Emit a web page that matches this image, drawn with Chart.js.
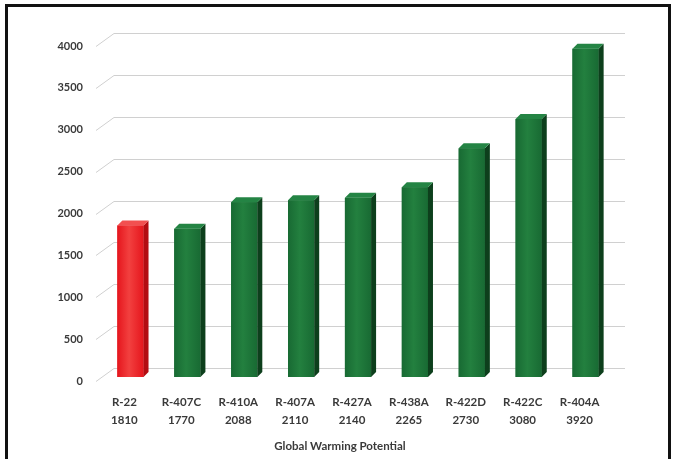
<!DOCTYPE html>
<html>
<head>
<meta charset="utf-8">
<script src="https://cdn.jsdelivr.net/npm/chart.js@4.4.1/dist/chart.umd.min.js"></script>
<style>
    html, body { margin: 0; padding: 0; background: #fff; }
    #wrap { position: relative; width: 674px; height: 459px; overflow: hidden; }
    #frame {
        position: absolute; left: 5px; top: 4px; width: 660px; height: 470px;
        border: 3px solid #111; pointer-events: none;
    }
</style>
</head>
<body>
<div id="wrap">
    <canvas id="gwpChart" width="674" height="459"></canvas>
    <div id="frame"></div>
</div>
<script>
// Refrigerants and their global warming potential
const refrigerants = ['R-22', 'R-407C', 'R-410A', 'R-407A', 'R-427A', 'R-438A', 'R-422D', 'R-422C', 'R-404A'];
const gwpValues = [1810, 1770, 2088, 2110, 2140, 2265, 2730, 3080, 3920];
const yTicks = [0, 500, 1000, 1500, 2000, 2500, 3000, 3500, 4000];
const axisTitle = 'Global Warming Potential';

const RED = { front: '#e5161d', light: '#f2403f', side: '#b30d12', top: '#f25050' };
const GREEN = { front: '#186a33', light: '#23803f', side: '#0d3f1c', top: '#248444' };

const palette = refrigerants.map((r, i) => i === 0 ? RED : GREEN);

// Back wall grid with the little diagonal "floor" connectors
const wallGrid = {
    id: 'wallGrid',
    beforeDatasetsDraw(chart) {
        const ctx = chart.ctx;
        const y = chart.scales.y;
        ctx.save();
        ctx.strokeStyle = '#d0d0d0';
        ctx.lineWidth = 1;
        yTicks.forEach(v => {
            const py = Math.round(y.getPixelForValue(v)) + 4.5;
            ctx.beginPath();
            ctx.moveTo(96, py);
            ctx.lineTo(114, py - 13);
            ctx.lineTo(625, py - 13);
            ctx.stroke();
        });
        ctx.restore();
    }
};

// Fake 3D columns: gradient front, dark side, lighter top
const columns3d = {
    id: 'columns3d',
    afterDatasetsDraw(chart) {
        const ctx = chart.ctx;
        const dx = 5, dy = 5;
        chart.getDatasetMeta(0).data.forEach((bar, i) => {
            const c = palette[i];
            const left = bar.x - bar.width / 2;
            const right = bar.x + bar.width / 2;
            const top = bar.y, base = bar.base;

            const g = ctx.createLinearGradient(left, 0, right, 0);
            g.addColorStop(0, c.front);
            g.addColorStop(0.45, c.light);
            g.addColorStop(1, c.front);
            ctx.fillStyle = g;
            ctx.fillRect(left, top, right - left, base - top);

            ctx.fillStyle = c.side;
            ctx.beginPath();
            ctx.moveTo(right, top);
            ctx.lineTo(right + dx, top - dy);
            ctx.lineTo(right + dx, base - dy);
            ctx.lineTo(right, base);
            ctx.closePath();
            ctx.fill();

            ctx.fillStyle = c.top;
            ctx.beginPath();
            ctx.moveTo(left, top);
            ctx.lineTo(left + dx, top - dy);
            ctx.lineTo(right + dx, top - dy);
            ctx.lineTo(right, top);
            ctx.closePath();
            ctx.fill();
        });
    }
};

// Axis title sits a bit left of the plot centre in the original
const bottomTitle = {
    id: 'bottomTitle',
    afterDraw(chart) {
        const ctx = chart.ctx;
        ctx.save();
        ctx.fillStyle = '#3a3a3a';
        ctx.font = 'bold 11.5px Lato';
        ctx.textAlign = 'center';
        ctx.textBaseline = 'middle';
        ctx.fillText(axisTitle, 340, 446);
        ctx.restore();
    }
};

new Chart(document.getElementById('gwpChart'), {
    type: 'bar',
    data: {
        labels: refrigerants.map((r, i) => [r, String(gwpValues[i])]),
        datasets: [{
            data: gwpValues,
            backgroundColor: palette.map(c => c.front),
            borderWidth: 0,
            categoryPercentage: 1,
            barPercentage: 0.46
        }]
    },
    options: {
        responsive: false,
        animation: false,
        layout: { padding: { left: 0, right: 60, top: 42, bottom: 0 } },
        plugins: {
            legend: { display: false },
            tooltip: { enabled: false }
        },
        scales: {
            x: {
                grid: { display: false, drawTicks: false },
                border: { display: false },
                ticks: {
                    color: '#3a3a3a',
                    font: { family: 'Lato', weight: 'bold', size: 11.5, lineHeight: 1.6 },
                    padding: 16,
                    labelOffset: -6,
                    maxRotation: 0,
                    autoSkip: false
                },
                afterFit(scale) { scale.height = 82; }
            },
            y: {
                min: 0,
                max: 4000,
                grid: { display: false, drawTicks: false },
                border: { display: false },
                afterBuildTicks(scale) { scale.ticks = yTicks.map(v => ({ value: v })); },
                ticks: {
                    color: '#3a3a3a',
                    font: { family: 'Lato', weight: 'bold', size: 11 },
                    padding: 19,
                    labelOffset: 4,
                    callback: v => String(v)
                },
                afterFit(scale) { scale.width = 102; }
            }
        }
    },
    plugins: [wallGrid, columns3d, bottomTitle]
});
</script>
</body>
</html>
